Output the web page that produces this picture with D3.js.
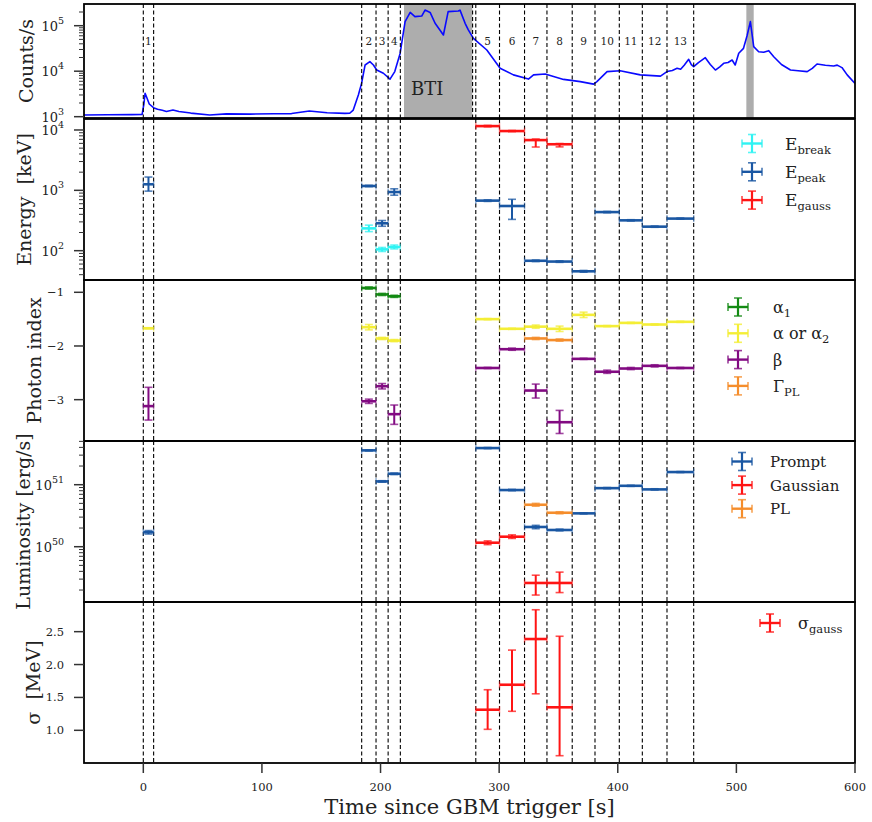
<!DOCTYPE html>
<html><head><meta charset="utf-8">
<script src="https://cdn.jsdelivr.net/npm/d3@7"></script>
<style>
body{margin:0;background:#fff}
svg{display:block}
text{font-family:"DejaVu Serif",serif;fill:#222}
</style>
</head><body>
<svg id="chart" width="872" height="822"></svg>
<script>
// ---------- DATA ----------
const intervalStart = [0, 184.1, 196.2, 206.4, 280.3, 300.3, 321.4, 340.3, 361.6, 380.8, 401.3, 420.7, 441.5];
const intervalEnd   = [8.7, 196.2, 206.4, 216.7, 300.3, 321.4, 340.3, 361.6, 380.8, 401.3, 420.7, 441.5, 464.0];
const intervalLabels = ["1","2","3","4","5","6","7","8","9","10","11","12","13"];
const btiWindow = [219.8, 277.3];
const extraLine = [277.6];
const grayWindow = [508.4, 514.6];

const lcTime = [-50,-30,-10,-1,0.5,1.5,3,5,8.6,12,16,19.5,25,30,40,56,70,90,110,125,140,155,170,174,177,181.3,184,187,191,194,196.8,202.4,208,212,216.5,220.7,225,229,234.7,237.5,241.8,246,253,257,265.6,267,271.3,274,278.3,289.6,300.8,312,324.7,329,338.8,354.3,368.4,379.6,382.4,391,402,419,436,441.5,446,450,453,456,459.8,462,464,468,473.8,478,482.3,486,489.3,493,496.4,499,502,506,509,511.8,514.6,518.8,523,527.3,531.5,538,545.6,552,559.7,564,568,575,582,585,589,593.4,600];
const lcCounts = [1090,1100,1110,1120,1900,3270,2600,1900,1580,1450,1380,1300,1400,1300,1200,1090,1150,1140,1160,1170,1330,1220,1180,1190,1400,3000,5400,13700,16200,13700,10600,9000,6700,9800,24500,123000,196000,158000,163000,221000,196000,113000,62500,204000,210000,220000,113000,81000,52500,29200,11600,8300,6700,8300,8700,6600,5900,5200,5900,9800,10200,8300,7800,9800,10400,11600,11000,13500,18200,14000,12600,15500,19800,14000,10600,12500,14900,15500,17600,13700,24800,31800,60000,123000,34700,26800,26000,28300,20800,14000,10600,10200,9800,11500,14400,13500,13000,13600,12000,8300,5400];

// Energy [keV]
const ebreak     = [null, 234, 105, 115, null, null, null, null, null, null, null, null, null];
const ebreakLow  = [null, 207, 97, 107, null, null, null, null, null, null, null, null, null];
const ebreakHigh = [null, 265, 113, 124, null, null, null, null, null, null, null, null, null];
const epeak      = [1260, 1180, 284, 937, 675, 550, 68, 66, 45.5, 436, 318, 250, 340];
const epeakLow   = [970, 1150, 254, 830, 655, 330, 66, 64, 44, 425, 310, 244, 332];
const epeakHigh  = [1660, 1210, 316, 1060, 695, 710, 70, 68, 47, 447, 326, 256, 348];
const egauss     = [null, null, null, null, 11600, 9600, 6800, 5800, null, null, null, null, null];
const egaussLow  = [null, null, null, null, 11300, 9400, 5220, 5250, null, null, null, null, null];
const egaussHigh = [null, null, null, null, 11900, 9800, 7080, 5960, null, null, null, null, null];

// Photon index
const alpha1     = [null, -0.92, -1.04, -1.075, null, null, null, null, null, null, null, null, null];
const alpha1Low  = [null, -0.94, -1.06, -1.095, null, null, null, null, null, null, null, null, null];
const alpha1High = [null, -0.90, -1.02, -1.055, null, null, null, null, null, null, null, null, null];
const alpha      = [-1.67, -1.65, -1.86, -1.90, -1.50, -1.68, -1.64, -1.68, -1.42, -1.63, -1.57, -1.60, -1.55];
const alphaLow   = [-1.68, -1.70, -1.88, -1.92, -1.51, -1.69, -1.67, -1.73, -1.47, -1.64, -1.58, -1.61, -1.56];
const alphaHigh  = [-1.66, -1.60, -1.84, -1.88, -1.49, -1.67, -1.61, -1.63, -1.37, -1.62, -1.56, -1.59, -1.54];
const beta       = [-3.12, -3.03, -2.75, -3.27, -2.41, -2.06, -2.83, -3.42, -2.24, -2.48, -2.42, -2.37, -2.41];
const betaLow    = [-3.38, -3.07, -2.80, -3.46, -2.42, -2.08, -2.97, -3.63, -2.25, -2.51, -2.44, -2.39, -2.42];
const betaHigh   = [-2.77, -2.99, -2.70, -3.10, -2.40, -2.04, -2.71, -3.20, -2.23, -2.45, -2.40, -2.35, -2.40];
const gammaPL     = [null, null, null, null, null, null, -1.86, -1.89, null, null, null, null, null];
const gammaPLLow  = [null, null, null, null, null, null, -1.88, -1.91, null, null, null, null, null];
const gammaPLHigh = [null, null, null, null, null, null, -1.84, -1.87, null, null, null, null, null];

// Luminosity [erg/s]
const lumPrompt     = [1.71e50, 3.58e51, 1.13e51, 1.5e51, 3.9e51, 8.2e50, 2.08e50, 1.86e50, 3.45e50, 8.8e50, 9.6e50, 8.4e50, 1.6e51];
const lumPromptLow  = [1.60e50, 3.50e51, 1.10e51, 1.46e51, 3.82e51, 8.0e50, 1.95e50, 1.80e50, 3.38e50, 8.6e50, 9.4e50, 8.2e50, 1.57e51];
const lumPromptHigh = [1.82e50, 3.66e51, 1.16e51, 1.54e51, 3.98e51, 8.4e50, 2.21e50, 1.92e50, 3.52e50, 9.0e50, 9.8e50, 8.6e50, 1.63e51];
const lumGauss      = [null, null, null, null, 1.16e50, 1.45e50, 2.6e49, 2.6e49, null, null, null, null, null];
const lumGaussLow   = [null, null, null, null, 1.08e50, 1.36e50, 1.66e49, 1.82e49, null, null, null, null, null];
const lumGaussHigh  = [null, null, null, null, 1.24e50, 1.55e50, 3.47e49, 3.89e49, null, null, null, null, null];
const lumPL         = [null, null, null, null, null, null, 4.75e50, 3.53e50, null, null, null, null, null];
const lumPLLow      = [null, null, null, null, null, null, 4.5e50, 3.4e50, null, null, null, null, null];
const lumPLHigh     = [null, null, null, null, null, null, 5.0e50, 3.66e50, null, null, null, null, null];

// Sigma [MeV]
const sigmaGauss     = [null, null, null, null, 1.313, 1.693, 2.388, 1.35, null, null, null, null, null];
const sigmaGaussLow  = [null, null, null, null, 1.015, 1.289, 1.555, 0.614, null, null, null, null, null];
const sigmaGaussHigh = [null, null, null, null, 1.617, 2.22, 2.833, 2.43, null, null, null, null, null];

const xTicks = [0, 100, 200, 300, 400, 500, 600];
const photonTicks = [-1, -2, -3];
const sigmaTicks = [1.0, 1.5, 2.0, 2.5];

// ---------- LAYOUT ----------
const svg = d3.select("#chart");
const L = 84, R = 855;
const x = d3.scaleLinear().domain([-50, 600]).range([L, R]);

const panels = [
  {top: 4,   bottom: 118, label: "Counts/s", labelX: 33},
  {top: 119, bottom: 280, label: "Energy  [keV]", labelX: 31},
  {top: 280, bottom: 441, label: "Photon index", labelX: 41},
  {top: 441, bottom: 602, label: "Luminosity [erg/s]", labelX: 30},
  {top: 602, bottom: 763, label: "σ  [MeV]", labelX: 40}
];

const yTop = d3.scaleLog().domain([Math.pow(10,2.971), Math.pow(10,5.477)]).range([118, 4]);
const yE = d3.scaleLog().domain([Math.pow(10,1.514), Math.pow(10,4.182)]).range([280, 119]);
const yP = d3.scaleLinear().domain([-3.77, -0.771]).range([441, 280]);
const yL = d3.scaleLog().domain([Math.pow(10,49.108), Math.pow(10,51.705)]).range([602, 441]);
const yS = d3.scaleLinear().domain([0.503, 2.951]).range([763, 602]);

const COL = {
  cyan: "#2ff3f3", blue: "#1a57a3", red: "#ff1414", green: "#138a13",
  yellow: "#f4ee36", purple: "#820a82", orange: "#f58d2b", gray: "#adadad"
};

// clip paths
const defs = svg.append("defs");
panels.forEach((p,i)=>{
  defs.append("clipPath").attr("id","clip"+i).append("rect")
    .attr("x",L).attr("y",p.top).attr("width",R-L).attr("height",p.bottom-p.top);
});

// ---------- TOP PANEL CONTENT ----------
const gTop = svg.append("g").attr("clip-path","url(#clip0)");
gTop.append("rect").attr("x", x(btiWindow[0])).attr("y", 4)
  .attr("width", x(btiWindow[1]) - x(btiWindow[0])).attr("height", 114).attr("fill", COL.gray);
gTop.append("rect").attr("x", x(grayWindow[0])).attr("y", 4)
  .attr("width", x(grayWindow[1]) - x(grayWindow[0])).attr("height", 114).attr("fill", COL.gray);
const line = d3.line().x((d,i)=>x(lcTime[i])).y(d=>yTop(d)).curve(d3.curveLinear);
gTop.append("path").attr("d", line(lcCounts)).attr("fill","none")
  .attr("stroke","#0a0aff").attr("stroke-width",1.6).attr("stroke-linejoin","round");
svg.append("text").attr("x", x(btiWindow[0]) + 7).attr("y", 95)
  .attr("font-size", 18).text("BTI");

// ---------- DASHED LINES ----------
const bounds = Array.from(new Set(intervalStart.concat(intervalEnd)));
panels.forEach((p,i)=>{
  const g = svg.append("g");
  const bl = i === 0 ? bounds.concat(extraLine) : bounds;
  bl.forEach(t=>{
    g.append("line").attr("x1",x(t)).attr("x2",x(t)).attr("y1",p.top).attr("y2",p.bottom)
      .attr("stroke","#000").attr("stroke-width",1.1).attr("stroke-dasharray","4,2.5");
  });
});

// interval labels
intervalLabels.forEach((lab,i)=>{
  svg.append("text").attr("x", x((intervalStart[i]+intervalEnd[i])/2)).attr("y", 45)
    .attr("text-anchor","middle").attr("font-size", 10.5).attr("fill","#333").text(lab);
});

// ---------- ERROR BARS ----------
function drawSeries(y, vals, lo, hi, color) {
  const g = svg.append("g");
  vals.forEach((v,i)=>{
    if (v == null) return;
    const x0 = x(intervalStart[i]), x1 = x(intervalEnd[i]), xc = (x0+x1)/2;
    const yv = y(v), yl = y(lo[i]), yh = y(hi[i]);
    g.append("line").attr("x1",x0).attr("x2",x1).attr("y1",yv).attr("y2",yv)
      .attr("stroke",color).attr("stroke-width",2.6);
    g.append("line").attr("x1",xc).attr("x2",xc).attr("y1",yl).attr("y2",yh)
      .attr("stroke",color).attr("stroke-width",2);
    [yl, yh].forEach(yy=>{
      g.append("line").attr("x1",xc-4).attr("x2",xc+4).attr("y1",yy).attr("y2",yy)
        .attr("stroke",color).attr("stroke-width",1.6).attr("opacity",0.75);
    });
    [x0, x1].forEach(xx=>{
      g.append("line").attr("x1",xx).attr("x2",xx).attr("y1",yv-3.5).attr("y2",yv+3.5)
        .attr("stroke",color).attr("stroke-width",1.4).attr("opacity",0.5);
    });
  });
}
drawSeries(yE, ebreak, ebreakLow, ebreakHigh, COL.cyan);
drawSeries(yE, epeak, epeakLow, epeakHigh, COL.blue);
drawSeries(yE, egauss, egaussLow, egaussHigh, COL.red);
drawSeries(yP, alpha1, alpha1Low, alpha1High, COL.green);
drawSeries(yP, alpha, alphaLow, alphaHigh, COL.yellow);
drawSeries(yP, beta, betaLow, betaHigh, COL.purple);
drawSeries(yP, gammaPL, gammaPLLow, gammaPLHigh, COL.orange);
drawSeries(yL, lumPrompt, lumPromptLow, lumPromptHigh, COL.blue);
drawSeries(yL, lumGauss, lumGaussLow, lumGaussHigh, COL.red);
drawSeries(yL, lumPL, lumPLLow, lumPLHigh, COL.orange);
drawSeries(yS, sigmaGauss, sigmaGaussLow, sigmaGaussHigh, COL.red);

// ---------- FRAMES ----------
panels.forEach(p=>{
  svg.append("rect").attr("x",L).attr("y",p.top).attr("width",R-L).attr("height",p.bottom-p.top)
    .attr("fill","none").attr("stroke","#000").attr("stroke-width",1.8);
});

// ---------- Y AXES ----------
const TICK = 10, MINOR = 5, LABX = 64;
function logAxis(y, decades, minors) {
  const g = svg.append("g");
  minors.forEach(v=>{
    g.append("line").attr("x1",L-MINOR).attr("x2",L).attr("y1",y(v)).attr("y2",y(v))
      .attr("stroke","#333").attr("stroke-width",1);
  });
  decades.forEach(e=>{
    const yy = y(Math.pow(10,e));
    g.append("line").attr("x1",L-TICK).attr("x2",L).attr("y1",yy).attr("y2",yy)
      .attr("stroke","#333").attr("stroke-width",1.5);
    const t = g.append("text").attr("x",LABX).attr("y",yy+5).attr("text-anchor","end").attr("font-size",13);
    t.append("tspan").text("10");
    t.append("tspan").attr("font-size",9.5).attr("dy",-7).text(String(e));
  });
}
function minorList(lo, hi) {
  const out = [];
  for (let e = Math.floor(Math.log10(lo)); e <= Math.ceil(Math.log10(hi)); e++)
    for (let m = 2; m <= 9; m++) { const v = m*Math.pow(10,e); if (v >= lo && v <= hi) out.push(v); }
  return out;
}
logAxis(yTop, [3,4,5], minorList(...yTop.domain()));
logAxis(yE, [2,3,4], minorList(...yE.domain()));
logAxis(yL, [50,51], minorList(...yL.domain()));

function linAxis(y, ticks, fmt) {
  const g = svg.append("g");
  ticks.forEach(v=>{
    const yy = y(v);
    g.append("line").attr("x1",L-TICK).attr("x2",L).attr("y1",yy).attr("y2",yy)
      .attr("stroke","#333").attr("stroke-width",1.5);
    g.append("text").attr("x",LABX).attr("y",yy+4).attr("text-anchor","end").attr("font-size",11.5).text(fmt(v));
  });
}
linAxis(yP, photonTicks, v=>"\u2212"+Math.abs(v));
linAxis(yS, sigmaTicks, d3.format(".1f"));

// X axis
xTicks.forEach(v=>{
  svg.append("line").attr("x1",x(v)).attr("x2",x(v)).attr("y1",763).attr("y2",773)
    .attr("stroke","#333").attr("stroke-width",1.5);
  svg.append("text").attr("x",x(v)).attr("y",791).attr("text-anchor","middle").attr("font-size",11.5).text(v);
});
svg.append("text").attr("x",(L+R)/2).attr("y",814).attr("text-anchor","middle").attr("font-size",21)
  .text("Time since GBM trigger [s]");

// Y labels
panels.forEach(p=>{
  const cy = (p.top+p.bottom)/2;
  svg.append("text").attr("transform",`translate(${p.labelX},${cy}) rotate(-90)`)
    .attr("text-anchor","middle").attr("font-size",19).attr("xml:space","preserve").text(p.label);
});

// ---------- LEGENDS ----------
function legendMarker(cx, cy, color) {
  const g = svg.append("g");
  g.append("line").attr("x1",cx-10).attr("x2",cx+10).attr("y1",cy).attr("y2",cy).attr("stroke",color).attr("stroke-width",2.4);
  g.append("line").attr("x1",cx).attr("x2",cx).attr("y1",cy-9).attr("y2",cy+9).attr("stroke",color).attr("stroke-width",2.2);
  [cy-9, cy+9].forEach(yy=>g.append("line").attr("x1",cx-4).attr("x2",cx+4).attr("y1",yy).attr("y2",yy).attr("stroke",color).attr("stroke-width",1.6).attr("opacity",0.8));
  [cx-10, cx+10].forEach(xx=>g.append("line").attr("x1",xx).attr("x2",xx).attr("y1",cy-4).attr("y2",cy+4).attr("stroke",color).attr("stroke-width",1.6).attr("opacity",0.8));
}
function legendText(tx, ty, main, sub, size) {
  const t = svg.append("text").attr("x",tx).attr("y",ty).attr("font-size",size||16);
  t.append("tspan").text(main);
  if (sub) t.append("tspan").attr("font-size",11.5).attr("dy",4).text(sub);
}
const energyLegend = [["E","break",COL.cyan],["E","peak",COL.blue],["E","gauss",COL.red]];
energyLegend.forEach((d,i)=>{
  const cy = 143.5 + i*28.3;
  legendMarker(752, cy, d[2]);
  legendText(785, cy+6, d[0], d[1], 17);
});
const photonLegend = [["α","1",COL.green],["α or α","2",COL.yellow],["β","",COL.purple],["Γ","PL",COL.orange]];
photonLegend.forEach((d,i)=>{
  const cy = 307 + i*26.3;
  legendMarker(738, cy, d[2]);
  legendText(773, cy+6, d[0], d[1], 16);
});
const lumLegend = [["Prompt",COL.blue],["Gaussian",COL.red],["PL",COL.orange]];
lumLegend.forEach((d,i)=>{
  const cy = 461.5 + i*23.6;
  legendMarker(742, cy, d[1]);
  legendText(770, cy+5.5, d[0], "", 15);
});
legendMarker(770, 623, COL.red);
legendText(798, 629, "σ", "gauss", 16);
</script>
</body></html>
